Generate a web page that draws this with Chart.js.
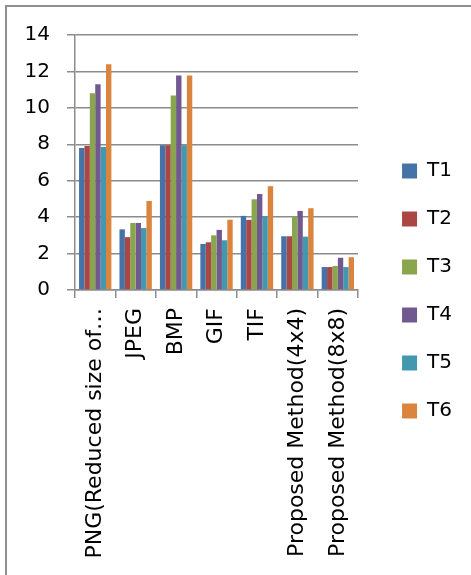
<!DOCTYPE html>
<html>
<head>
<meta charset="utf-8">
<script src="https://cdn.jsdelivr.net/npm/chart.js@4.4.1/dist/chart.umd.min.js"></script>
<style>
  html, body { margin: 0; padding: 0; background: #fff; }
  #wrap { position: relative; width: 471px; height: 575px; overflow: hidden; }
  #frame { position: absolute; left: 5px; top: 5px; width: 480px; height: 590px;
           border-top: 2px solid #8f8f8f; border-left: 2px solid #8f8f8f; }
  canvas { position: absolute; left: 0; top: 0; }
</style>
</head>
<body>
<div id="wrap">
  <div id="frame"></div>
  <canvas id="c" width="471" height="575"></canvas>
</div>
<script>
const categories = ["PNG(Reduced size of\u2026", "JPEG", "BMP", "GIF", "TIF", "Proposed Method(4x4)", "Proposed Method(8x8)"];
const seriesNames = ["T1", "T2", "T3", "T4", "T5", "T6"];
const T1 = [7.8, 3.33, 7.95, 2.53, 4.07, 2.95, 1.26];
const T2 = [7.9, 2.9, 7.95, 2.62, 3.85, 2.95, 1.26];
const T3 = [10.8, 3.68, 10.68, 3.0, 4.98, 4.05, 1.32];
const T4 = [11.3, 3.68, 11.78, 3.3, 5.27, 4.34, 1.77];
const T5 = [7.85, 3.4, 7.95, 2.73, 4.05, 2.93, 1.26];
const T6 = [12.4, 4.89, 11.78, 3.86, 5.7, 4.49, 1.8];
const yTicks = [0, 2, 4, 6, 8, 10, 12, 14];
const colors = ["#4572A7", "#AA4643", "#89A54E", "#71588F", "#4198AF", "#DB843D"];

const seriesValues = [T1, T2, T3, T4, T5, T6];
const datasets = seriesNames.map((name, i) => ({
  label: name,
  data: seriesValues[i],
  backgroundColor: colors[i],
  borderWidth: 0,
  yAxisID: 'y',
  xAxisID: 'x',
  categoryPercentage: 0.8,
  barPercentage: 1.0
}));

const gridColor = '#8c8c8c';
const spacer = (pos, weight, size) => ({
  type: 'linear',
  position: pos,
  weight: weight,
  display: true,
  grid: { display: false },
  border: { display: false },
  ticks: { display: false },
  afterFit: (s) => { if (pos === 'top') s.height = size; else s.width = size; }
});

new Chart(document.getElementById('c'), {
  type: 'bar',
  data: { labels: categories, datasets },
  options: {
    responsive: false,
    animation: false,
    layout: { padding: { top: 7, right: 0, bottom: 0, left: 0 } },
    plugins: {
      legend: {
        position: 'right',
        maxWidth: 200,
        labels: {
          boxWidth: 15,
          boxHeight: 15,
          padding: 28,
          color: '#000',
          font: { family: 'DejaVu Sans', size: 20 }
        }
      },
      tooltip: { enabled: false }
    },
    scales: {
      x: {
        grid: { display: true, offset: true, drawOnChartArea: false, drawTicks: true,
                tickLength: 8, color: gridColor, lineWidth: 1.5 },
        border: { display: true, color: gridColor, width: 1.5 },
        ticks: { autoSkip: false, maxRotation: 90, minRotation: 90, padding: 10,
                 color: '#000', font: { family: 'DejaVu Sans', size: 22 } },
        afterFit: (s) => { s.height = 285; }
      },
      y: {
        min: 0,
        max: 14,
        afterBuildTicks: (s) => { s.ticks = yTicks.map(v => ({ value: v })); },
        grid: { color: gridColor, lineWidth: 1.5, tickLength: 8, drawTicks: true },
        border: { display: true, color: gridColor, width: 1.5 },
        ticks: { padding: 17, color: '#000', font: { family: 'DejaVu Sans', size: 20 } },
        afterFit: (s) => { s.width = 75; }
      },
      topGap: spacer('top', 0, 28),
      rightGap: spacer('right', 0, 16),
      outerGap: spacer('right', 2000, 9)
    }
  }
});
</script>
</body>
</html>
